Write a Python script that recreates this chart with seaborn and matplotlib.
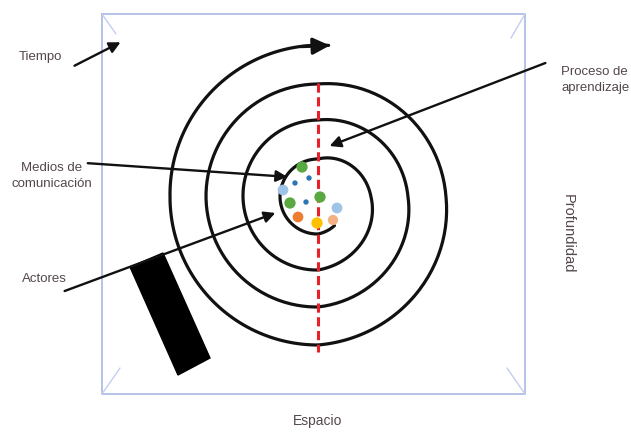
import numpy as np
import pandas as pd
import seaborn as sns
import matplotlib.pyplot as plt
from matplotlib.patches import Polygon

sns.set_theme(style="white")
plt.rcParams['font.family'] = ['Liberation Sans', 'DejaVu Sans']

# spiral: radius (px) at angles measured clockwise from top (deg)
spiral_angle = [150, 180, 270, 360, 450, 540, 630, 720, 810, 900, 990, 1080, 1170, 1260, 1350, 1444]
spiral_radius = [33, 37, 38, 38, 53, 73, 75, 77, 90, 110, 112, 113, 128, 148, 148, 152]
centre = (318, 197)

# coloured dots in the middle (pixel positions)
dot_x = [302, 283, 295, 309, 320, 306, 290, 337, 298, 317, 333]
dot_y = [167, 190, 183, 178, 197, 202, 203, 208, 217, 223, 220]
dot_kind = ['verde', 'celeste', 'azul', 'azul', 'verde', 'azul', 'verde', 'celeste',
            'naranja', 'amarillo', 'salmon']
kind_colors = {'verde': '#5aa840', 'celeste': '#9dc3e6', 'azul': '#2e75b6',
               'naranja': '#ed7d31', 'amarillo': '#ffc000', 'salmon': '#f4b183'}
kind_sizes = {'verde': 66, 'celeste': 60, 'azul': 15, 'naranja': 60, 'amarillo': 66, 'salmon': 55}

labels = ['Tiempo', 'Medios de\ncomunicación', 'Actores', 'Proceso de\naprendizaje',
          'Profundidad', 'Espacio']

fig = plt.figure(figsize=(6.31, 4.32), dpi=100)
ax = fig.add_axes([0, 0, 1, 1])
ax.set_xlim(0, 631)
ax.set_ylim(432, 0)
ax.axis('off')

# frame with corner ticks
bx0, by0, bx1, by1 = 102, 14, 525, 394
ax.plot([bx0, bx1, bx1, bx0, bx0], [by0, by0, by1, by1, by0], color='#aab8e4', lw=1.2)
for (cx0, cy0, cx1, cy1) in [(bx0, by0, bx0 + 14, by0 + 20), (bx1, by0, bx1 - 14, by0 + 24),
                             (bx0, by1, bx0 + 18, by1 - 26), (bx1, by1, bx1 - 18, by1 - 26)]:
    ax.plot([cx0, cx1], [cy0, cy1], color='#c5cdf0', lw=1.0)

# spiral
phi = np.linspace(spiral_angle[0], spiral_angle[-1], 800)
r = np.interp(phi, spiral_angle, spiral_radius)
sp = pd.DataFrame({'x': centre[0] + r * np.sin(np.radians(phi)),
                   'y': centre[1] - r * np.cos(np.radians(phi))})
sns.lineplot(data=sp, x='x', y='y', sort=False, estimator=None, color='#111111', lw=2.3, ax=ax)
ax.annotate('', xy=(sp.x.iloc[-1] + 4, sp.y.iloc[-1]), xytext=(sp.x.iloc[-8], sp.y.iloc[-8]),
            arrowprops=dict(arrowstyle='-|>,head_length=0.85,head_width=0.42', color='#111111', lw=2.3))

# red dashed axis
ax.plot([318, 318], [83, 352], color='#e8202a', lw=2.2, ls=(0, (3, 1.5)))

# dots
dots = pd.DataFrame({'x': dot_x, 'y': dot_y, 'kind': dot_kind})
sns.scatterplot(data=dots, x='x', y='y', hue='kind', palette=kind_colors, size='kind',
                sizes=kind_sizes, legend=False, edgecolor='none', ax=ax, zorder=5)

# black block
ax.add_patch(Polygon([(130, 267), (163, 253), (210, 358), (178, 375)], closed=True,
                     facecolor='black', edgecolor='black'))

# pointer arrows
arrow_kw = dict(arrowstyle='-|>,head_length=0.55,head_width=0.28', color='#111111', lw=1.7)
ax.annotate('', xy=(123, 41), xytext=(72, 67), arrowprops=arrow_kw)
ax.annotate('', xy=(290, 177), xytext=(85, 163), arrowprops=arrow_kw)
ax.annotate('', xy=(278, 212), xytext=(62, 292), arrowprops=arrow_kw)
ax.annotate('', xy=(327, 147), xytext=(548, 62), arrowprops=arrow_kw)

# labels
tc = '#54474a'
ax.text(40, 57, labels[0], ha='center', va='center', fontsize=9.5, color=tc)
ax.text(52, 176, labels[1], ha='center', va='center', fontsize=9.5, color=tc, linespacing=1.45)
ax.text(44, 279, labels[2], ha='center', va='center', fontsize=9.5, color=tc)
ax.text(561, 80, labels[3], ha='left', va='center', fontsize=9.5, color=tc, linespacing=1.45)
ax.text(568, 234, labels[4], ha='center', va='center', fontsize=10.5, color=tc, rotation=-90)
ax.text(318, 421, labels[5], ha='center', va='center', fontsize=10, color=tc)

fig.savefig('out.png', dpi=100)
